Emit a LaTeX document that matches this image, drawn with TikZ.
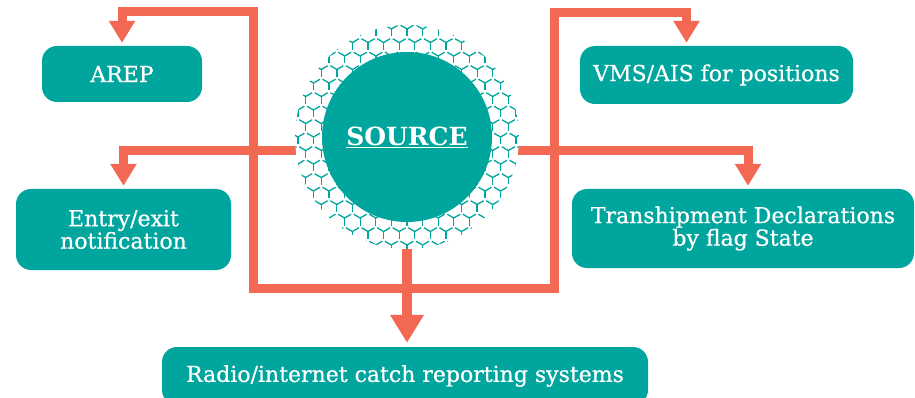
\documentclass[tikz,border=0pt]{standalone}
\usepackage{fontspec}
\setmainfont{DejaVu Serif}
\newfontfamily\boxfont{DejaVu Serif}[FakeBold=0.6]
\usepackage{xcolor}
\usepackage{tikz}
\usetikzlibrary{arrows.meta, positioning}
\definecolor{srcteal}{RGB}{0,166,157}
\definecolor{srcorange}{RGB}{242,104,82}
\tikzstyle{infobox} = [rectangle, rounded corners=15pt, fill=srcteal, text=white, align=center, inner sep=0pt, font=\boxfont\fontsize{22}{22.5}\selectfont]
\tikzstyle{feed} = [draw=srcorange, line width=9pt]
\tikzstyle{arrow} = [feed, -{Triangle[width=25pt,length=22pt]}, shorten >=3pt]
\tikzstyle{bigarrow} = [feed, line width=10pt, -{Triangle[width=32pt,length=28pt]}, shorten >=4pt]
\tikzstyle{twoarrow} = [feed, {Triangle[width=25pt,length=22pt]}-{Triangle[width=25pt,length=22pt]}, shorten >=3pt, shorten <=3pt]
\tikzstyle{hexline} = [draw=srcteal, line width=1.3pt]

\begin{document}
\begin{tikzpicture}[x=1pt, y=-1pt]
    \useasboundingbox (0,0) rectangle (915,398);
    \node (arep) [infobox, minimum width=160pt, minimum height=56pt] at (122,74) {AREP};
    \node (entry) [infobox, minimum width=215pt, minimum height=81pt] at (123.5,229.5) {Entry/exit\\notification};
    \node (vms) [infobox, minimum width=273pt, minimum height=58pt] at (716.5,75) {VMS/AIS for positions};
    \node (tranship) [infobox, minimum width=342pt, minimum height=79pt] at (743,228.5) {Transhipment Declarations\\by flag State};
    \node (radio) [infobox, minimum width=486pt, minimum height=58pt] at (405,376) {Radio/internet catch reporting systems};
    \node (src) [circle, minimum size=224pt, inner sep=0pt] at (407,137) {};
    % orange frame round the source
    \coordinate (tl) at (253,12);
    \coordinate (bl) at (253,288);
    \coordinate (br) at (554,288);
    \coordinate (tr) at (554,13);
    \draw [twoarrow] (arep.north) |- (tl) -- (bl) -- (br) -- (tr) -| ([xshift=-30pt]vms.north);
    \draw [arrow] (src.187) -| (entry.north);
    \draw [arrow] (src.353) -| ([xshift=5pt]tranship.north);
    \draw [bigarrow] (src.south) -- (src.south |- radio.north);
    % patterned ring
    \fill [white] (src.center) circle [radius=112pt];
    \begin{scope}
        \clip (src.center) circle [radius=112pt];
        \foreach \i in {-9,...,9}
            \foreach \j in {-9,...,9}
                \foreach \a in {90,210,330}
                    \draw [hexline] ({407+15.59*\i+7.79*\j},{137+13.5*\j}) -- ++(\a:7.5);
    \end{scope}
    \node (core) [circle, fill=srcteal, minimum size=170pt, inner sep=0pt, text=white, font=\fontsize{25}{28}\selectfont\bfseries] at (src) {\underline{SOURCE}};
\end{tikzpicture}
\end{document}
